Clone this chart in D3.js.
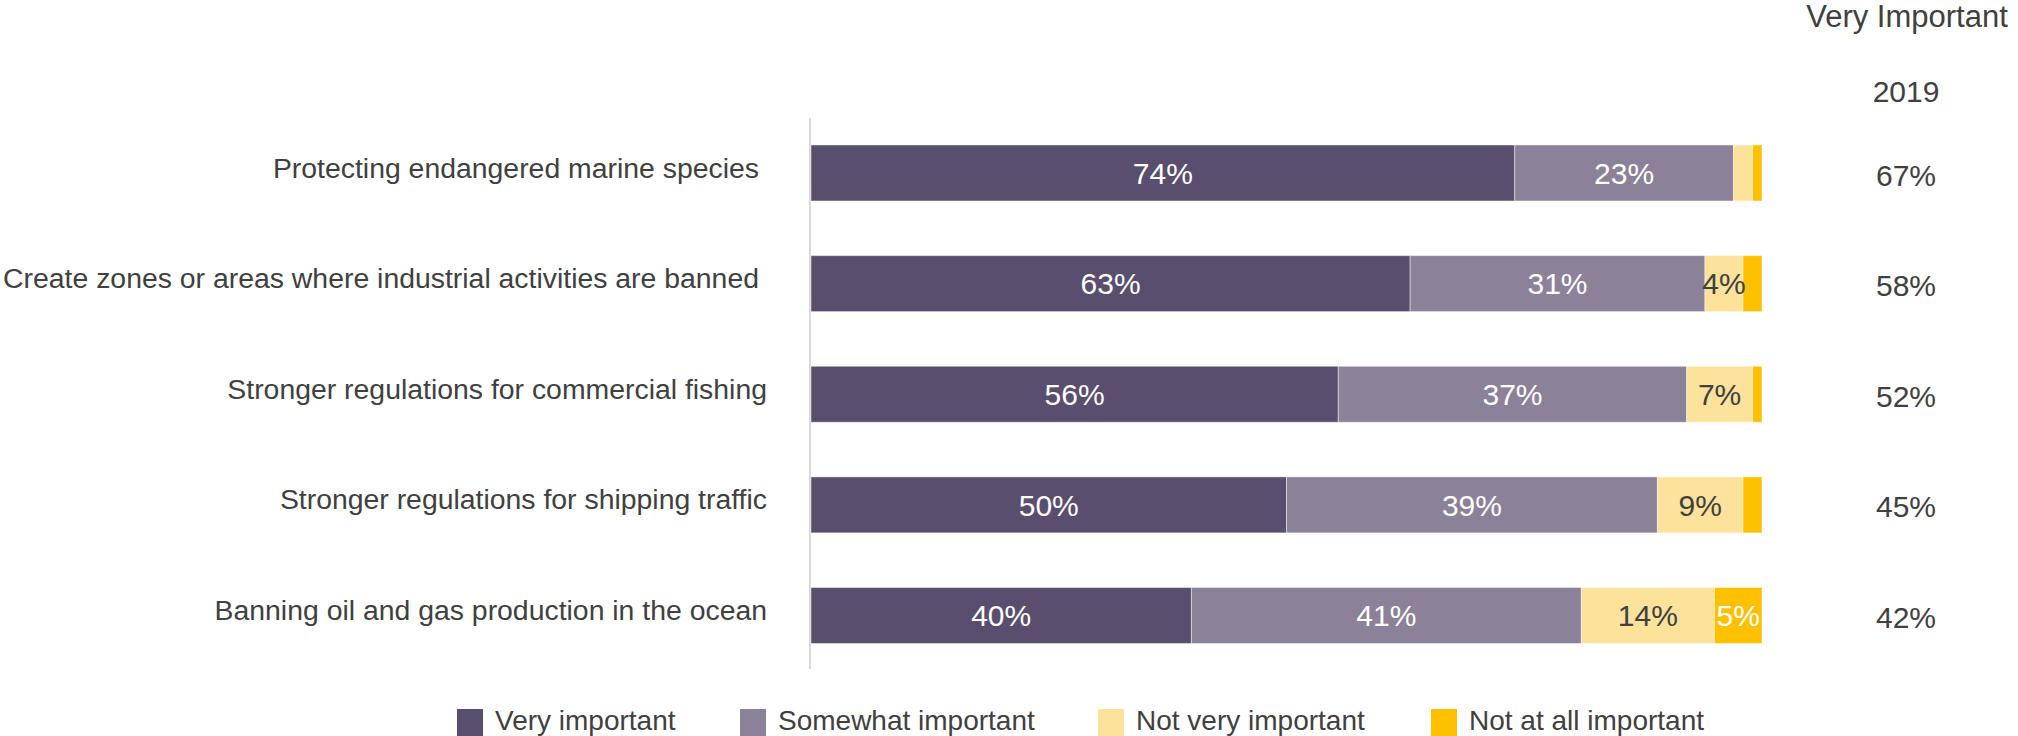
<!DOCTYPE html>
<html>
<head>
<meta charset="utf-8">
<script src="https://cdn.jsdelivr.net/npm/d3@7/dist/d3.min.js"></script>
<style>
  html, body { margin: 0; padding: 0; background: #fff; }
  svg { display: block; font-family: "Liberation Sans", Arial, sans-serif; }
</style>
</head>
<body>
<svg id="chart" width="2018" height="736"></svg>
<script>
// Survey items (top to bottom)
const categories = [
  "Protecting endangered marine species",
  "Create zones or areas where industrial activities are banned",
  "Stronger regulations for commercial fishing",
  "Stronger regulations for shipping traffic",
  "Banning oil and gas production in the ocean"
];
// Share of respondents per answer (%)
const veryImportant     = [74, 63, 56, 50, 40];
const somewhatImportant = [23, 31, 37, 39, 41];
const notVeryImportant  = [2, 4, 7, 9, 14];
const notAtAllImportant = [1, 2, 1, 2, 5];
// "Very important" share in the previous wave
const veryImportant2019 = [67, 58, 52, 45, 42];

const seriesNames  = ["Very important", "Somewhat important", "Not very important", "Not at all important"];
const seriesValues = [veryImportant, somewhatImportant, notVeryImportant, notAtAllImportant];
const seriesColors = ["#594e6d", "#8b8198", "#fde29b", "#ffc000"];
const labelColors  = ["#ffffff", "#ffffff", "#404040", "#ffffff"];

const svg = d3.select("#chart");
const textColor = "#404040";

// Row table for a 100% stacked layout
const rows = categories.map((c, i) => {
  const r = { category: c };
  const total = d3.sum(seriesValues, v => v[i]);
  seriesNames.forEach((s, k) => {
    r[s] = seriesValues[k][i] / total;
    r[s + "_raw"] = seriesValues[k][i];
  });
  return r;
});

const stacked = d3.stack().keys(seriesNames)(rows);

const x = d3.scaleLinear().domain([0, 1]).range([811, 1762]);
const y = d3.scaleBand().domain(categories).range([145, 643.5]).paddingInner(0.494).paddingOuter(0);
const mid = d => y(d) + y.bandwidth() / 2;

// Category axis line
svg.append("line")
  .attr("x1", 810).attr("x2", 810)
  .attr("y1", 118).attr("y2", 669)
  .attr("stroke", "#d9d9d9").attr("stroke-width", 2);

// Bars
const layers = svg.append("g").selectAll("g")
  .data(stacked)
  .join("g")
  .attr("fill", (d, i) => seriesColors[i]);

layers.selectAll("rect")
  .data(d => d)
  .join("rect")
  .attr("x", p => x(p[0]))
  .attr("y", p => y(p.data.category))
  .attr("width", p => x(p[1]) - x(p[0]))
  .attr("height", y.bandwidth())
  .attr("stroke", "#ffffff")
  .attr("stroke-opacity", 0.45)
  .attr("stroke-width", 1);

// Value labels inside segments
stacked.forEach((layer, k) => {
  svg.append("g").selectAll("text")
    .data(layer.filter(p => p.data[layer.key + "_raw"] >= 4))
    .join("text")
    .attr("x", p => (x(p[0]) + x(p[1])) / 2)
    .attr("y", p => mid(p.data.category))
    .attr("dy", "0.36em")
    .attr("text-anchor", "middle")
    .attr("font-size", 30)
    .attr("fill", labelColors[k])
    .text(p => p.data[layer.key + "_raw"] + "%");
});

// Category labels
svg.append("g").selectAll("text")
  .data(categories)
  .join("text")
  .attr("x", (d, i) => i < 2 ? 759 : 767)
  .attr("y", d => mid(d))
  .attr("dy", "0.16em")
  .attr("text-anchor", "end")
  .attr("font-size", 28.4)
  .attr("fill", textColor)
  .text(d => d);

// Previous-wave column
svg.append("text")
  .attr("x", 1907).attr("y", 27)
  .attr("text-anchor", "middle")
  .attr("font-size", 31)
  .attr("fill", textColor)
  .text("Very Important");
svg.append("text")
  .attr("x", 1906).attr("y", 102)
  .attr("text-anchor", "middle")
  .attr("font-size", 30)
  .attr("fill", textColor)
  .text("2019");
svg.append("g").selectAll("text")
  .data(veryImportant2019)
  .join("text")
  .attr("x", 1906)
  .attr("y", (d, i) => mid(categories[i]))
  .attr("dy", "0.42em")
  .attr("text-anchor", "middle")
  .attr("font-size", 30)
  .attr("fill", textColor)
  .text(d => d + "%");

// Legend
const legendX = [457, 740, 1098, 1431];
const legend = svg.append("g").selectAll("g")
  .data(seriesNames)
  .join("g")
  .attr("transform", (d, i) => `translate(${legendX[i]},0)`);
legend.append("rect")
  .attr("x", 0).attr("y", 709)
  .attr("width", 26).attr("height", 28)
  .attr("fill", (d, i) => seriesColors[i]);
legend.append("text")
  .attr("x", 38).attr("y", 730)
  .attr("font-size", 28)
  .attr("fill", textColor)
  .text(d => d);
</script>
</body>
</html>
